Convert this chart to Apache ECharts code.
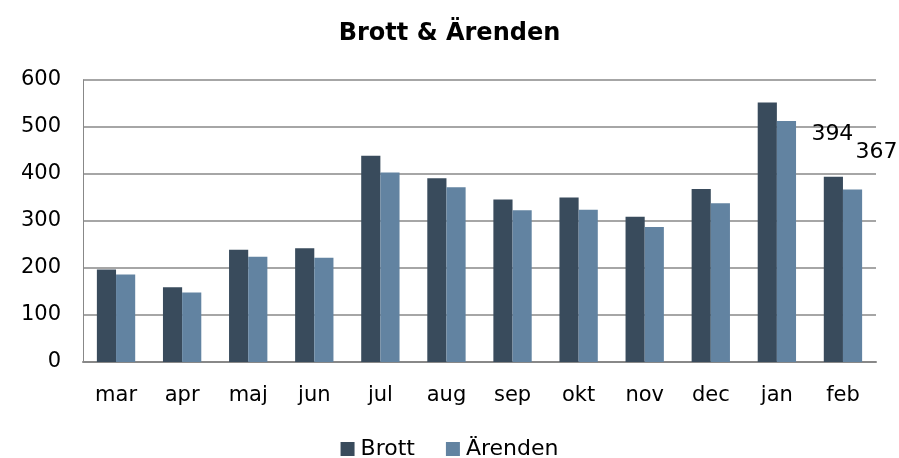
<!DOCTYPE html>
<html>
<head>
<meta charset="utf-8">
<script src="https://cdn.jsdelivr.net/npm/echarts@6/dist/echarts.min.js"></script>
<style>
  html, body { margin: 0; padding: 0; background: #fff; }
  #chart { width: 899px; height: 458px; }
</style>
</head>
<body>
<div id="chart"></div>
<script>
const months = ['mar', 'apr', 'maj', 'jun', 'jul', 'aug', 'sep', 'okt', 'nov', 'dec', 'jan', 'feb']
const brott = [197, 159, 239, 242, 439, 391, 346, 350, 309, 368, 552, 394]
const arenden = [186, 148, 224, 222, 403, 372, 323, 324, 287, 338, 513, 367]

// only the last month carries a value label
const withLastLabel = (values, offset) =>
  values.map((v, i) =>
    i === values.length - 1
      ? { value: v, label: { show: true, position: 'top', offset: offset } }
      : v
  )

const myChart = echarts.init(document.getElementById('chart'))

const option = {
  animation: false,
  textStyle: { fontFamily: 'DejaVu Sans, sans-serif' },
  title: {
    text: 'Brott & Ärenden',
    left: 'center',
    top: 17,
    textStyle: { fontSize: 24, fontWeight: 'bold', color: '#000' },
  },
  legend: {
    data: ['Brott', 'Ärenden'],
    top: 433,
    left: 'center',
    icon: 'rect',
    itemWidth: 14,
    itemHeight: 14,
    itemGap: 31,
    textStyle: { fontSize: 22, color: '#000', padding: [0, 0, 0, 1] },
  },
  grid: { left: 83, right: 23, top: 80, bottom: 96 },
  xAxis: {
    type: 'category',
    data: months,
    axisLine: { lineStyle: { color: '#888', width: 2 } },
    axisTick: { show: false },
    axisLabel: { fontSize: 21, color: '#000', margin: 23 },
  },
  yAxis: {
    type: 'value',
    min: 0,
    max: 600,
    interval: 100,
    axisLine: { show: true, lineStyle: { color: '#888', width: 1 } },
    axisTick: { show: false },
    axisLabel: { fontSize: 21, color: '#000', margin: 22, padding: [12, 0, 0, 0] },
    splitLine: { lineStyle: { color: '#888', width: 1.5 } },
  },
  series: [
    {
      name: 'Brott',
      type: 'bar',
      data: withLastLabel(brott, [-1, -27]),
      barGap: '0%',
      barCategoryGap: '42%',
      itemStyle: { color: '#394B5C' },
      label: { fontSize: 22, color: '#000' },
    },
    {
      name: 'Ärenden',
      type: 'bar',
      data: withLastLabel(arenden, [24, -21]),
      itemStyle: { color: '#6283A1' },
      label: { fontSize: 22, color: '#000' },
    },
  ],
}

myChart.setOption(option)
</script>
</body>
</html>
